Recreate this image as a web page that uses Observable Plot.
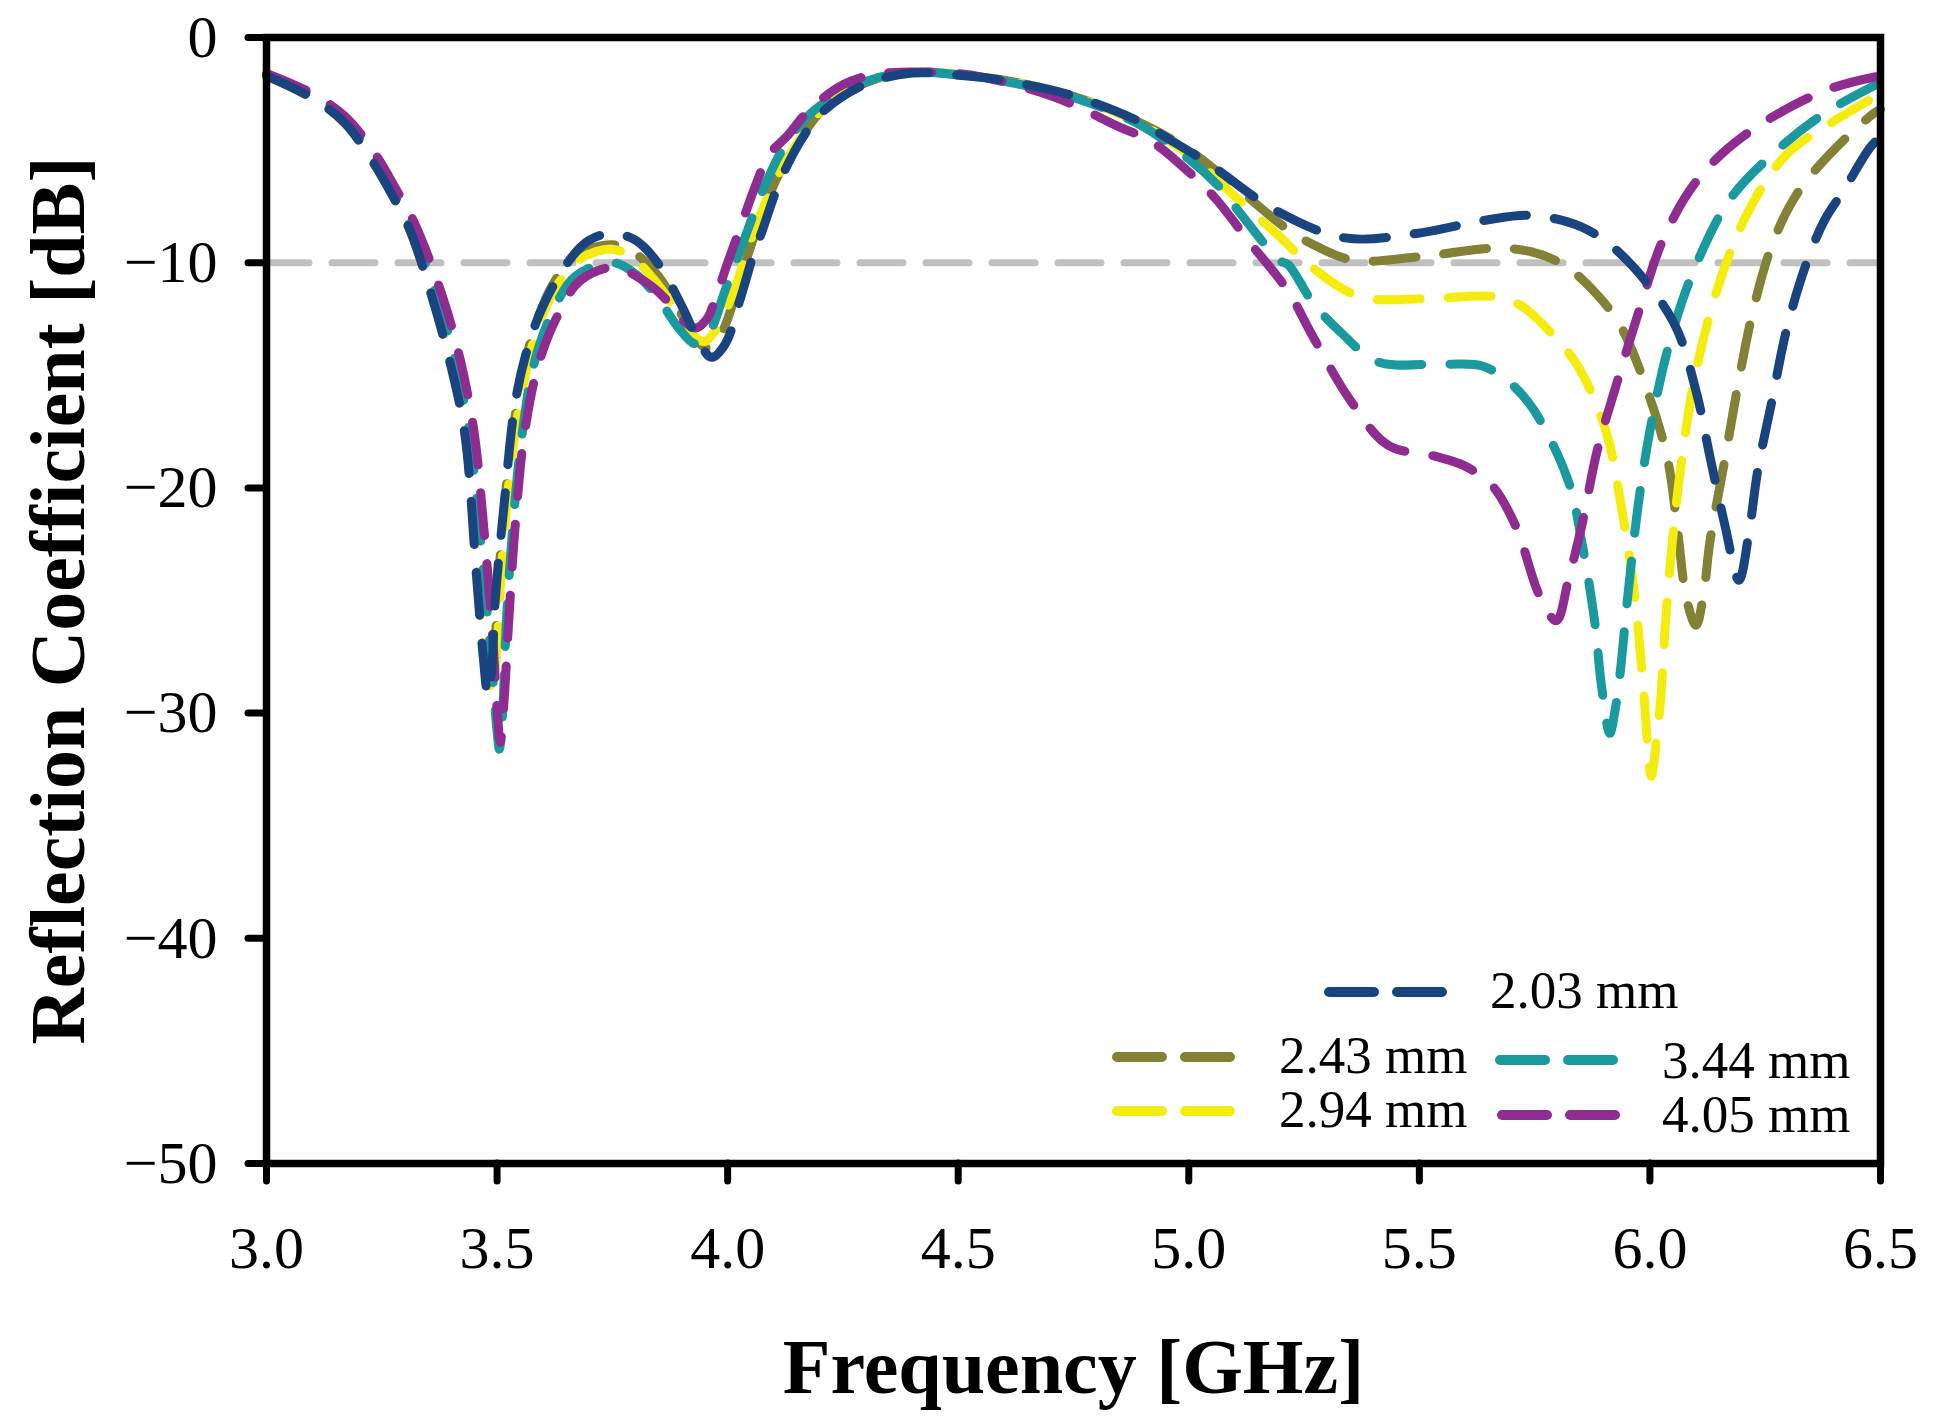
<!DOCTYPE html>
<html>
<head>
<meta charset="utf-8">
<script src="https://cdn.jsdelivr.net/npm/d3@7"></script>
<script src="https://cdn.jsdelivr.net/npm/@observablehq/plot@0.6"></script>
<style>
  body { margin: 0; background: white; }
  #chart svg { display: block; }
</style>
</head>
<body>
<div id="chart"></div>
<script>
// valores (GHz, dB)
const f203 = [3.00,3.10,3.17,3.23,3.27,3.31,3.36,3.40,3.43,3.455,3.47,3.48,3.488,3.496,3.515,3.538,3.562,3.60,3.66,3.70,3.748,3.80,3.848,3.90,3.94,3.965,3.995,4.026,4.058,4.073,4.113,4.164,4.206,4.30,4.40,4.508,4.60,4.748,4.896,4.948,5.043,5.19,5.339,5.494,5.638,5.741,5.85,5.936,6.05,6.10,6.13,6.163,6.193,6.214,6.234,6.265,6.296,6.338,6.379,6.42,6.477,6.50]
const s203 = [-1.7,-2.7,-3.8,-5.5,-6.9,-8.5,-11.6,-14.6,-17.6,-23.8,-27.5,-29.2,-28.2,-25.0,-20.8,-16.4,-14.1,-11.9,-9.8,-9.0,-8.7,-9.0,-10.0,-11.9,-13.6,-14.2,-13.6,-11.7,-9.5,-8.7,-6.4,-4.4,-3.3,-2.06,-1.58,-1.69,-1.91,-2.58,-3.76,-4.4,-5.6,-7.7,-8.9,-8.7,-8.13,-7.9,-8.4,-9.6,-12.6,-15.7,-18.6,-21.7,-24.1,-22.1,-19.2,-16.1,-13.0,-10.1,-8.1,-6.8,-4.9,-4.4]

const f243 = [3.00,3.10,3.17,3.23,3.27,3.31,3.36,3.40,3.43,3.455,3.47,3.485,3.495,3.505,3.525,3.55,3.58,3.62,3.67,3.75,3.80,3.85,3.90,3.935,3.96,3.99,4.02,4.058,4.11,4.164,4.206,4.30,4.40,4.508,4.60,4.748,4.896,5.00,5.10,5.213,5.28,5.36,5.514,5.658,5.74,5.813,5.88,5.936,5.998,6.039,6.06,6.08,6.10,6.117,6.13,6.162,6.193,6.224,6.265,6.317,6.389,6.486,6.50]
const s243 = [-1.7,-2.7,-3.8,-5.5,-6.9,-8.5,-11.5,-14.4,-17.4,-23.3,-27.0,-29.0,-27.0,-23.5,-19.0,-15.5,-13.0,-11.0,-9.7,-9.2,-9.6,-10.6,-12.3,-13.5,-13.8,-13.0,-11.2,-8.8,-6.1,-4.3,-3.2,-2.0,-1.55,-1.66,-1.9,-2.6,-3.8,-5.0,-6.6,-8.5,-9.3,-9.9,-9.7,-9.36,-9.5,-10.1,-11.3,-12.8,-15.9,-18.8,-21.9,-25.0,-26.1,-24.6,-22.4,-18.8,-15.2,-12.1,-9.2,-7.0,-5.2,-3.36,-3.2]

const f294 = [3.00,3.10,3.17,3.23,3.27,3.31,3.36,3.40,3.43,3.455,3.47,3.49,3.50,3.51,3.53,3.555,3.585,3.625,3.675,3.75,3.80,3.85,3.90,3.93,3.95,3.98,4.02,4.055,4.11,4.164,4.206,4.30,4.40,4.508,4.60,4.748,4.896,5.00,5.113,5.20,5.267,5.37,5.514,5.658,5.72,5.78,5.844,5.905,5.936,5.967,5.987,6.003,6.015,6.024,6.034,6.05,6.07,6.10,6.152,6.214,6.296,6.40,6.50]
const s294 = [-1.7,-2.7,-3.8,-5.5,-6.9,-8.5,-11.5,-14.4,-17.4,-23.0,-26.5,-29.0,-27.0,-23.5,-19.0,-15.6,-13.1,-11.2,-9.9,-9.4,-9.9,-11.0,-12.5,-13.3,-13.5,-12.8,-10.9,-8.7,-6.1,-4.3,-3.2,-2.0,-1.55,-1.66,-1.9,-2.6,-3.85,-5.2,-7.3,-8.9,-10.2,-11.5,-11.6,-11.5,-11.9,-13.0,-14.6,-17.5,-20.6,-24.8,-29.2,-32.8,-31.0,-29.2,-25.9,-22.1,-18.6,-14.8,-10.8,-7.7,-5.2,-3.7,-2.5]

const f344 = [3.00,3.10,3.17,3.23,3.27,3.31,3.37,3.41,3.44,3.465,3.485,3.50,3.505,3.512,3.52,3.535,3.555,3.58,3.62,3.67,3.75,3.80,3.85,3.89,3.93,3.96,3.995,4.03,4.08,4.13,4.19,4.30,4.40,4.508,4.60,4.748,4.896,5.00,5.074,5.10,5.197,5.216,5.27,5.33,5.41,5.555,5.638,5.70,5.75,5.823,5.854,5.88,5.895,5.913,5.925,5.936,5.952,5.977,6.008,6.05,6.10,6.173,6.265,6.379,6.50]
const s344 = [-1.7,-2.6,-3.7,-5.3,-6.7,-8.3,-11.5,-14.4,-17.6,-22.5,-27.0,-30.8,-31.6,-30.0,-26.0,-21.5,-17.5,-14.5,-12.2,-10.6,-10.0,-10.5,-11.6,-12.8,-13.6,-13.1,-11.2,-9.3,-6.6,-4.6,-3.2,-1.95,-1.55,-1.68,-1.95,-2.65,-3.9,-5.4,-6.8,-7.5,-9.9,-10.1,-11.8,-13.1,-14.4,-14.5,-14.6,-15.4,-16.6,-19.7,-22.6,-25.9,-28.8,-30.9,-29.8,-28.1,-24.8,-20.4,-16.6,-13.0,-10.1,-7.2,-5.2,-3.36,-2.0]

const f405 = [3.00,3.10,3.17,3.23,3.28,3.32,3.38,3.42,3.45,3.47,3.49,3.50,3.507,3.515,3.525,3.54,3.56,3.59,3.63,3.68,3.755,3.81,3.86,3.90,3.93,3.955,3.975,4.00,4.03,4.06,4.09,4.128,4.176,4.25,4.323,4.45,4.55,4.71,4.85,4.918,5.012,5.06,5.136,5.184,5.22,5.267,5.35,5.432,5.535,5.596,5.658,5.709,5.761,5.797,5.823,5.854,5.885,5.926,5.977,6.028,6.10,6.204,6.379,6.50]
const s405 = [-1.6,-2.5,-3.5,-5.0,-6.7,-8.2,-11.4,-14.3,-17.5,-21.5,-26.5,-29.8,-31.3,-29.5,-26.0,-21.5,-17.5,-14.5,-12.4,-10.8,-10.2,-10.7,-11.5,-12.5,-12.9,-12.5,-11.5,-10.0,-8.3,-6.6,-5.2,-4.4,-3.24,-2.1,-1.63,-1.55,-1.75,-2.65,-3.98,-4.6,-6.2,-7.2,-9.2,-10.4,-11.4,-13.2,-16.1,-18.1,-18.6,-19.0,-19.9,-21.7,-24.8,-25.9,-24.1,-21.5,-18.4,-15.5,-12.1,-9.0,-6.4,-4.36,-2.36,-1.7]

const etiquetas = ["2.03 mm", "2.43 mm", "2.94 mm", "3.44 mm", "4.05 mm"]
const colores = ["#1a4480", "#838135", "#f5ec0f", "#1a9a9e", "#8e2d8f"]
const xTicks = [3.0, 3.5, 4.0, 4.5, 5.0, 5.5, 6.0, 6.5]
const yTicks = [-50, -40, -30, -20, -10, 0]
const umbral = -10

const series = [[f203, s203], [f243, s243], [f294, s294], [f344, s344], [f405, s405]]
const data = series.flatMap(([f, s], i) => f.map((d, j) => ({freq: d, db: s[j], espesor: etiquetas[i]})))

// orden de dibujo: el azul queda arriba
const orden = [1, 2, 3, 4, 0]

const lineas = orden.map(i => Plot.line(data.filter(d => d.espesor === etiquetas[i]), {
  x: 'freq', y: 'db', stroke: colores[i], strokeWidth: 9,
  strokeDasharray: '43,28', strokeLinecap: 'round', curve: 'catmull-rom'
}))

let chart = Plot.plot({
  width: 1933,
  height: 1425,
  marginLeft: 266,
  marginRight: 53,
  marginTop: 37,
  marginBottom: 262,
  x: {domain: [3, 6.5]},
  y: {domain: [-50, 0]},
  style: {fontFamily: '"Liberation Serif", "Times New Roman", serif', fontSize: 60, background: 'white', color: 'black'},
  marks: [
    Plot.ruleY([umbral], {stroke: '#c0c0c0', strokeWidth: 7, strokeDasharray: '43,23', strokeLinecap: 'round'}),
    ...lineas,
    Plot.frame({stroke: 'black', strokeWidth: 7.5}),
    Plot.axisX({ticks: xTicks, tickFormat: d3.format('.1f'), tickSize: 18, tickPadding: 44, strokeWidth: 7, strokeLinecap: 'round', fontSize: 60, label: null}),
    Plot.axisY({ticks: yTicks, tickFormat: d3.format('d'), tickSize: 18, tickPadding: 31, strokeWidth: 7, strokeLinecap: 'round', fontSize: 60, label: null}),
    Plot.text(['Frequency [GHz]'], {text: d => d, frameAnchor: 'bottom', dy: 205, fontSize: 78, fontWeight: 'bold', lineAnchor: 'middle'}),
    Plot.text(['Reflection Coefficient [dB]'], {text: d => d, frameAnchor: 'left', dx: -207, rotate: -90, textAnchor: 'middle', fontSize: 78, fontWeight: 'bold', lineAnchor: 'middle'}),
  ]
})

// leyenda dentro del grafico (abajo a la derecha)
const leyenda = [
  {i: 0, x: 1329, y: 992, tx: 1490, ty: 1008},
  {i: 1, x: 1117, y: 1057, tx: 1279, ty: 1073},
  {i: 2, x: 1117, y: 1111, tx: 1279, ty: 1127},
  {i: 3, x: 1500, y: 1060, tx: 1662, ty: 1078},
  {i: 4, x: 1502, y: 1115, tx: 1662, ty: 1132},
]
const g = d3.select(chart).append('g').attr('text-anchor', 'start')
leyenda.forEach(l => {
  g.append('line').attr('x1', l.x).attr('x2', l.x + 113).attr('y1', l.y).attr('y2', l.y)
    .attr('stroke', colores[l.i]).attr('stroke-width', 10).attr('stroke-linecap', 'round')
    .attr('stroke-dasharray', '45,23')
  g.append('text').attr('x', l.tx).attr('y', l.ty).attr('font-size', 53).attr('fill', 'black')
    .attr('text-anchor', 'start')
    .text(etiquetas[l.i])
})

d3.select('#chart').append(() => chart)
</script>
</body>
</html>
